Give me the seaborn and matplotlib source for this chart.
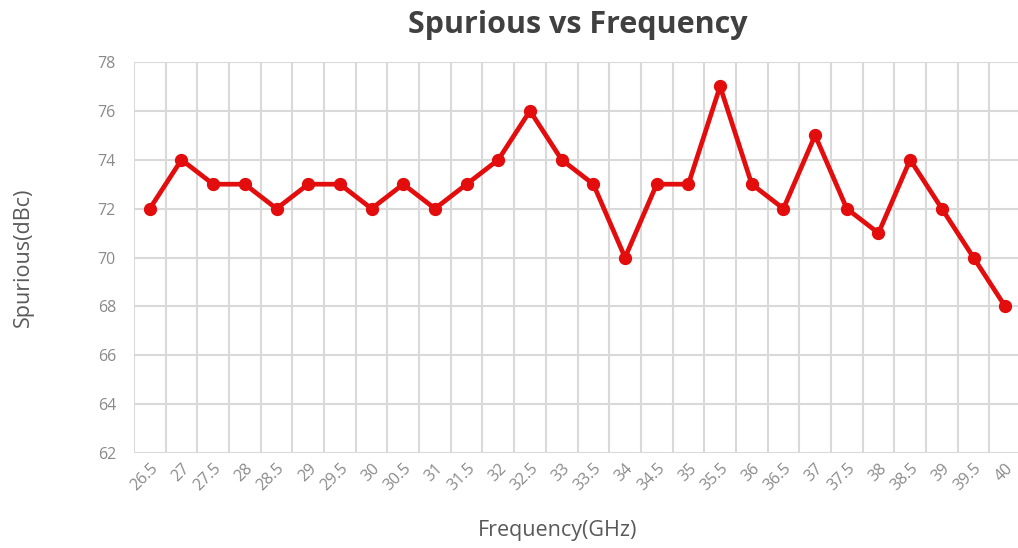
import numpy as np
import pandas as pd
import seaborn as sns
import matplotlib.pyplot as plt
from matplotlib.ticker import FixedLocator

freq_labels = ['26.5', '27', '27.5', '28', '28.5', '29', '29.5', '30', '30.5', '31',
               '31.5', '32', '32.5', '33', '33.5', '34', '34.5', '35', '35.5', '36',
               '36.5', '37', '37.5', '38', '38.5', '39', '39.5', '40']
spurious = [72, 74, 73, 73, 72, 73, 73, 72, 73, 72,
            73, 74, 76, 74, 73, 70, 73, 73, 77, 73,
            72, 75, 72, 71, 74, 72, 70, 68]
y_ticks = [62, 64, 66, 68, 70, 72, 74, 76, 78]

df = pd.DataFrame({'freq': freq_labels, 'spur': spurious})

sns.set_style("white")
plt.rcParams['font.family'] = ['Open Sans', 'DejaVu Sans']

fig = plt.figure(figsize=(10.18, 5.48), dpi=100)
ax = fig.add_axes([0.1316, 0.173, 0.8714, 0.714])

sns.pointplot(data=df, x='freq', y='spur', color='#e30d0d', ax=ax,
              markers='o', linewidth=3.4, markersize=7)

n = len(freq_labels)
ax.set_xlim(-0.5, n - 0.5)
ax.set_ylim(y_ticks[0], y_ticks[-1])
ax.set_yticks(y_ticks)
ax.xaxis.set_minor_locator(FixedLocator(np.arange(-0.5, n, 1.0)))
ax.grid(which='minor', axis='x', color='#d9d9d9', linewidth=1.5)
ax.grid(which='major', axis='y', color='#d9d9d9', linewidth=1.5)
ax.grid(which='major', axis='x', visible=False)
ax.set_axisbelow(True)
for s in ax.spines.values():
    s.set_visible(False)

ax.tick_params(axis='both', which='both', length=0, labelsize=11.5, colors='#8a8a8a')
ax.tick_params(axis='y', pad=13)
ax.tick_params(axis='x', pad=5)
plt.setp(ax.get_xticklabels(), rotation=45, ha='right', rotation_mode='anchor')

ax.set_xlabel('Frequency(GHz)', fontsize=15.5, color='#595959')
ax.xaxis.set_label_coords(0.478, -0.17)
ax.set_ylabel('Spurious(dBc)', fontsize=15.5, color='#595959', labelpad=46)
ax.set_title('Spurious vs Frequency', fontsize=22, fontweight='bold',
             color='#404040', pad=21)

plt.savefig('out.png', dpi=100)
